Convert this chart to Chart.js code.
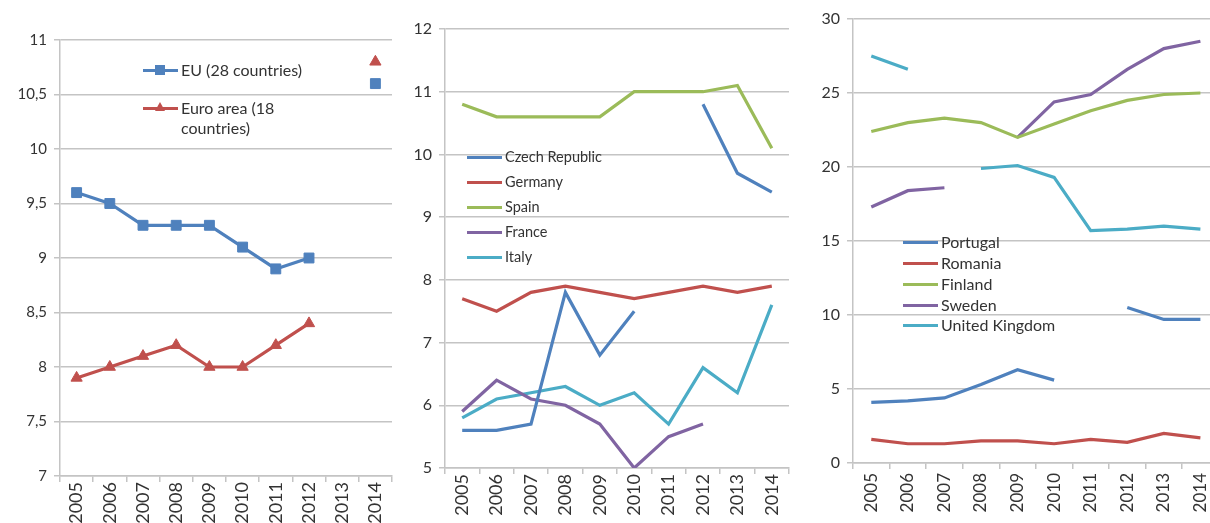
<!DOCTYPE html>
<html>
<head>
<meta charset="utf-8">
<script src="https://cdn.jsdelivr.net/npm/chart.js@4.4.1/dist/chart.umd.min.js"></script>
<style>
  body { margin: 0; width: 1210px; height: 523px; overflow: hidden; background: #fff; position: relative; font-family: Lato, sans-serif; }
  canvas { position: absolute; top: 0; }
  .item { position: absolute; color: #333; }
  .swatch { position: absolute; left: 0; width: 35px; height: 3px; }
  .txt { position: absolute; white-space: normal; }
  .sq { position: absolute; width: 10px; height: 10px; left: 12px; }
  .tri { position: absolute; width: 0; height: 0; left: 12px; border-left: 5px solid transparent; border-right: 5px solid transparent; }
</style>
</head>
<body>
<canvas id="c1" width="400" height="523" style="left:0px"></canvas>
<canvas id="c2" width="405" height="523" style="left:390px"></canvas>
<canvas id="c3" width="430" height="523" style="left:795px"></canvas>

<script>
// categories
const years = ['2005', '2006', '2007', '2008', '2009', '2010', '2011', '2012', '2013', '2014'];

// panel 1
const euValues       = [9.6, 9.5, 9.3, 9.3, 9.3, 9.1, 8.9, 9.0, null, 10.6];
const euroAreaValues = [7.9, 8.0, 8.1, 8.2, 8.0, 8.0, 8.2, 8.4, null, 10.8];

// panel 2
const czechValues   = [5.6, 5.6, 5.7, 7.8, 6.8, 7.5, null, 10.8, 9.7, 9.4];
const germanyValues = [7.7, 7.5, 7.8, 7.9, 7.8, 7.7, 7.8, 7.9, 7.8, 7.9];
const spainValues   = [10.8, 10.6, 10.6, 10.6, 10.6, 11.0, 11.0, 11.0, 11.1, 10.1];
const franceValues  = [5.9, 6.4, 6.1, 6.0, 5.7, 5.0, 5.5, 5.7, null, null];
const italyValues   = [5.8, 6.1, 6.2, 6.3, 6.0, 6.2, 5.7, 6.6, 6.2, 7.6];

// panel 3
const portugalValues = [4.1, 4.2, 4.4, 5.3, 6.3, 5.6, null, 10.5, 9.7, 9.7];
const romaniaValues  = [1.6, 1.3, 1.3, 1.5, 1.5, 1.3, 1.6, 1.4, 2.0, 1.7];
const finlandValues  = [22.4, 23.0, 23.3, 23.0, 22.0, 22.9, 23.8, 24.5, 24.9, 25.0];
const swedenValues   = [17.3, 18.4, 18.6, null, 22.0, 24.4, 24.9, 26.6, 28.0, 28.5];
const ukValues       = [27.5, 26.6, null, 19.9, 20.1, 19.3, 15.7, 15.8, 16.0, 15.8];

// y tick ranges
const yTicks1 = { min: 7, max: 11, step: 0.5 };
const yTicks2 = { min: 5, max: 12, step: 1 };
const yTicks3 = { min: 0, max: 30, step: 5 };

const blue = '#4F81BD', red = '#C0504D', green = '#9BBB59', purple = '#8064A2', cyan = '#4BACC6';
const gridColor = '#c4c4c4';
const textColor = '#333';

function lineChart(id, datasets, yr, opt) {
  return new Chart(document.getElementById(id), {
    type: 'line',
    data: { labels: years, datasets: datasets },
    options: {
      responsive: false,
      animation: false,
      layout: { padding: { top: opt.top, right: opt.right, left: 0, bottom: 0 } },
      plugins: { legend: { display: false }, tooltip: { enabled: false } },
      elements: { line: { tension: 0, borderWidth: 3.2 }, point: { radius: 0 } },
      scales: {
        x: {
          offset: true,
          grid: { offset: true, drawOnChartArea: false, tickLength: 6, color: gridColor, lineWidth: 1.5 },
          border: { color: gridColor, width: 1.5 },
          ticks: { minRotation: 90, maxRotation: 90, autoSkip: false, padding: opt.xPad, color: textColor,
                   font: { family: 'Lato', size: opt.xFont } },
          afterFit: s => { s.height = opt.xH; }
        },
        y: {
          min: yr.min, max: yr.max,
          grid: { tickLength: 6, color: gridColor, lineWidth: 1.5 },
          border: { color: gridColor, width: 1.5 },
          ticks: { stepSize: yr.step, padding: 7, color: textColor, font: { family: 'Lato', size: opt.yFont },
                   callback: v => String(v).replace('.', ',') },
          afterFit: s => { s.width = opt.yW; }
        }
      }
    }
  });
}

lineChart('c1', [
  { label: 'EU (28 countries)', data: euValues, borderColor: blue, backgroundColor: blue,
    pointStyle: 'rect', pointRadius: 7 },
  { label: 'Euro area (18 countries)', data: euroAreaValues, borderColor: red, backgroundColor: red,
    pointStyle: 'triangle', pointRadius: 6.5 }
], yTicks1, { top: 40, right: 2, xH: 47, yW: 60, xPad: 0, xFont: 18, yFont: 15 });

lineChart('c2', [
  { label: 'Czech Republic', data: czechValues, borderColor: blue },
  { label: 'Germany', data: germanyValues, borderColor: red },
  { label: 'Spain', data: spainValues, borderColor: green },
  { label: 'France', data: franceValues, borderColor: purple },
  { label: 'Italy', data: italyValues, borderColor: cyan }
], yTicks2, { top: 29, right: 6, xH: 55, yW: 55, xPad: 0, xFont: 18, yFont: 16 });

lineChart('c3', [
  { label: 'Portugal', data: portugalValues, borderColor: blue },
  { label: 'Romania', data: romaniaValues, borderColor: red },
  { label: 'Finland', data: finlandValues, borderColor: green },
  { label: 'Sweden', data: swedenValues, borderColor: purple },
  { label: 'United Kingdom', data: ukValues, borderColor: cyan }
], yTicks3, { top: 19, right: 4, xH: 60, yW: 58, xPad: 4, xFont: 17, yFont: 16 });

// legends placed inside the plot areas
function legend(chartIndex, left, rows, fontSize, lineH, textW) {
  const chart = Object.values(Chart.instances)[chartIndex];
  chart.data.datasets.forEach((ds, i) => {
    const item = document.createElement('div');
    item.className = 'item';
    item.style.left = left + 'px';
    item.style.top = (rows[i] - lineH / 2) + 'px';
    item.style.fontSize = fontSize + 'px';
    item.style.lineHeight = lineH + 'px';
    const sw = document.createElement('div');
    sw.className = 'swatch';
    sw.style.background = ds.borderColor;
    sw.style.top = (lineH / 2 - 1.5) + 'px';
    item.appendChild(sw);
    if (ds.pointStyle === 'rect') {
      const m = document.createElement('div');
      m.className = 'sq';
      m.style.background = ds.borderColor;
      m.style.top = (lineH / 2 - 5) + 'px';
      item.appendChild(m);
    } else if (ds.pointStyle === 'triangle') {
      const m = document.createElement('div');
      m.className = 'tri';
      m.style.borderBottom = '9px solid ' + ds.borderColor;
      m.style.top = (lineH / 2 - 6) + 'px';
      item.appendChild(m);
    }
    const t = document.createElement('div');
    t.className = 'txt';
    t.style.left = '38px';
    t.style.top = '0px';
    if (textW) t.style.width = textW + 'px';
    else t.style.whiteSpace = 'nowrap';
    t.textContent = ds.label;
    item.appendChild(t);
    document.body.appendChild(item);
  });
}

legend(0, 143, [70, 108], 16, 20, 135);
legend(1, 467, [157, 182, 207, 232, 257], 14.5, 20);
legend(2, 903, [242, 263, 284, 305, 325], 16, 20);
</script>
</body>
</html>
